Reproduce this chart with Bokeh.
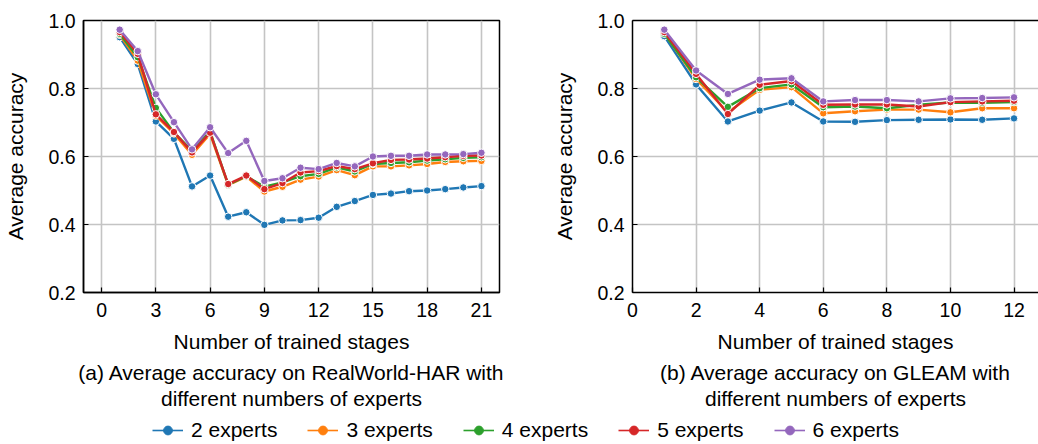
from bokeh.plotting import figure
from bokeh.models import (LinearAxis, Title, Legend, LegendItem, FixedTicker,
                          PrintfTickFormatter, Range1d)
from bokeh.layouts import column, row
from bokeh.embed import file_html
from bokeh.resources import INLINE

# ---------------- data ----------------
series_names = ["2 experts", "3 experts", "4 experts", "5 experts", "6 experts"]
colors = ["#1f77b4", "#ff7f0e", "#2ca02c", "#d62728", "#9467bd"]

har_stages = list(range(1, 22))
har_2 = [0.951, 0.872, 0.703, 0.652, 0.512, 0.544, 0.423, 0.436, 0.399, 0.412, 0.413,
         0.420, 0.452, 0.469, 0.487, 0.491, 0.498, 0.500, 0.504, 0.509, 0.513]
har_3 = [0.958, 0.882, 0.720, 0.668, 0.605, 0.666, 0.516, 0.541, 0.497, 0.511, 0.532,
         0.541, 0.560, 0.545, 0.571, 0.571, 0.574, 0.578, 0.584, 0.586, 0.587]
har_4 = [0.961, 0.892, 0.743, 0.671, 0.617, 0.673, 0.517, 0.542, 0.511, 0.524, 0.542,
         0.549, 0.568, 0.556, 0.578, 0.581, 0.583, 0.588, 0.592, 0.596, 0.598]
har_5 = [0.966, 0.902, 0.724, 0.672, 0.612, 0.670, 0.519, 0.544, 0.504, 0.522, 0.553,
         0.557, 0.572, 0.563, 0.580, 0.590, 0.591, 0.594, 0.598, 0.602, 0.603]
har_6 = [0.973, 0.910, 0.783, 0.701, 0.621, 0.686, 0.610, 0.646, 0.528, 0.536, 0.567,
         0.563, 0.581, 0.571, 0.600, 0.602, 0.602, 0.606, 0.606, 0.607, 0.611]

gleam_stages = list(range(1, 13))
gleam_2 = [0.954, 0.812, 0.703, 0.735, 0.759, 0.703, 0.702, 0.707, 0.708, 0.709, 0.708, 0.712]
gleam_3 = [0.963, 0.828, 0.730, 0.796, 0.804, 0.727, 0.733, 0.738, 0.738, 0.730, 0.742, 0.742]
gleam_4 = [0.961, 0.833, 0.746, 0.801, 0.812, 0.745, 0.747, 0.742, 0.752, 0.759, 0.758, 0.760]
gleam_5 = [0.966, 0.843, 0.725, 0.811, 0.822, 0.752, 0.753, 0.753, 0.747, 0.760, 0.762, 0.764]
gleam_6 = [0.973, 0.853, 0.784, 0.826, 0.830, 0.762, 0.766, 0.766, 0.762, 0.771, 0.772, 0.774]

har_xticks = [0, 3, 6, 9, 12, 15, 18, 21]
gleam_xticks = [0, 2, 4, 6, 8, 10, 12]
y_ticks = [0.2, 0.4, 0.6, 0.8, 1.0]

x_label = "Number of trained stages"
y_label = "Average accuracy"
caption_a = ["(a) Average accuracy on RealWorld-HAR with", "different numbers of experts"]
caption_b = ["(b) Average accuracy on GLEAM with", "different numbers of experts"]

FONT = "Liberation Sans"
GRID = "#c4c4c4"


def style_axis(ax, ticks, fmt=None):
    ax.ticker = FixedTicker(ticks=ticks)
    if fmt:
        ax.formatter = PrintfTickFormatter(format=fmt)
    ax.major_label_text_font = FONT
    ax.major_label_text_font_size = "19.5px"
    ax.major_label_text_color = "black"
    ax.axis_label_text_font = FONT
    ax.axis_label_text_font_size = "21px"
    ax.axis_label_text_font_style = "normal"
    ax.axis_label_text_color = "black"
    ax.major_tick_in = 5
    ax.major_tick_out = 0
    ax.minor_tick_line_color = None
    ax.major_tick_line_color = "black"
    ax.major_tick_line_width = 1.2
    ax.axis_line_color = "black"
    ax.axis_line_width = 1.5


def make_panel(xs, ys_list, xr, xticks, caption, width, mb_left, mb_right, outline=True):
    p = figure(width=width, height=414, output_backend="svg", toolbar_location=None,
               x_range=Range1d(*xr), y_range=Range1d(0.2, 1.0),
               min_border_left=mb_left, min_border_right=mb_right,
               min_border_top=20, min_border_bottom=122)
    p.background_fill_color = "white"
    p.border_fill_color = "white"
    xax = p.below[0]
    yax = p.left[0]
    if outline:
        p.outline_line_color = "black"
        p.outline_line_width = 1.5
        p.outline_line_alpha = 1.0
    else:
        p.outline_line_color = None
        top = LinearAxis(major_tick_line_color=None, minor_tick_line_color=None,
                         major_label_text_font_size="0px", major_label_text_alpha=0,
                         axis_line_color="black", axis_line_width=1.5,
                         major_label_standoff=0, major_tick_in=0, major_tick_out=0)
        p.add_layout(top, "above")
    style_axis(xax, xticks)
    style_axis(yax, y_ticks, "%.1f")
    xax.axis_label = x_label
    yax.axis_label = y_label
    xax.major_label_standoff = 10
    yax.major_label_standoff = 8
    xax.axis_label_standoff = 10
    yax.axis_label_standoff = 18
    p.xgrid.ticker = FixedTicker(ticks=xticks)
    p.ygrid.ticker = FixedTicker(ticks=y_ticks)
    for g in (p.xgrid[0], p.ygrid[0]):
        g.grid_line_color = GRID
        g.grid_line_width = 1.6
    for ys, c in zip(ys_list, colors):
        p.line(xs, ys, line_color=c, line_width=2.4)
        p.scatter(xs, ys, marker="circle", size=7.5, fill_color=c,
                  line_color="white", line_width=1.0)
    standoffs = [6, -4.5]
    for txt, so in zip(caption, standoffs):
        t = Title(text=txt, align="center", text_font=FONT, text_font_size="21px",
                  text_font_style="normal", text_color="black",
                  standoff=so, offset=0)
        p.add_layout(t, "below")
    return p


p1 = make_panel(har_stages, [har_2, har_3, har_4, har_5, har_6], (-1, 22), har_xticks,
                caption_a, 549, 83, 50, outline=True)
p2 = make_panel(gleam_stages, [gleam_2, gleam_3, gleam_4, gleam_5, gleam_6],
                (0, 12.77), gleam_xticks, caption_b, 489, 83, 0, outline=False)

# ---------------- legend strip ----------------
lg = figure(width=1038, height=30, output_backend="svg", toolbar_location=None,
            x_range=Range1d(0, 1), y_range=Range1d(0, 1),
            x_axis_location=None, y_axis_location=None,
            min_border_left=0, min_border_right=0, min_border_top=0, min_border_bottom=0)
lg.outline_line_color = None
lg.xgrid.visible = False
lg.ygrid.visible = False
items = []
for name, c in zip(series_names, colors):
    r1 = lg.line(x=[-10, -9], y=[-10, -9], line_color=c, line_width=1.6)
    r2 = lg.scatter(x=[-10], y=[-10], marker="circle", size=4.2, fill_color=c, line_color=c)
    items.append(LegendItem(label=name, renderers=[r1, r2]))
legend = Legend(items=items, orientation="horizontal", location=(152, 2),
                label_text_font=FONT, label_text_font_size="21px", label_text_color="black",
                glyph_width=31, glyph_height=22, label_height=22, label_standoff=8,
                spacing=30, padding=0, margin=0, border_line_color=None,
                background_fill_alpha=0)
lg.add_layout(legend, "center")

layout = column(row(p1, p2), lg)
open("out.html", "w").write(file_html(layout, INLINE))
